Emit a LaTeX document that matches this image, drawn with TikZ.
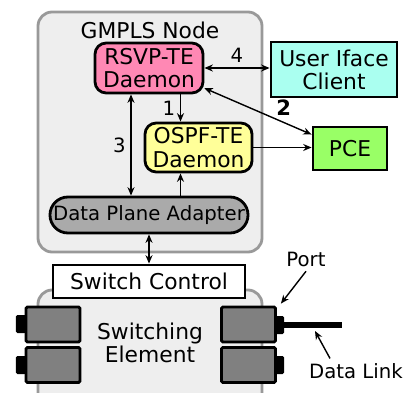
\documentclass[tikz,border=0pt]{standalone}
\usepackage{fontspec}
\setmainfont{DejaVu Sans}
\usepackage{xcolor}
\usetikzlibrary{arrows.meta}

\definecolor{boxgray}{HTML}{EEEEEE}
\definecolor{edgegray}{HTML}{999999}
\definecolor{rsvppink}{HTML}{FF88B4}
\definecolor{ospfyellow}{HTML}{FFFF99}
\definecolor{uicyan}{HTML}{AAFFF0}
\definecolor{pcegreen}{HTML}{99FF66}
\definecolor{dpagray}{HTML}{AAAAAA}
\definecolor{portgray}{HTML}{808080}

\tikzset{
  txt/.style={font=\fontsize{15.5}{16.5}\selectfont},
  smalltxt/.style={font=\fontsize{14}{15}\selectfont},
  daemon/.style={txt, draw, line width=2pt, rounded corners=8pt, align=center, inner sep=0pt},
  extbox/.style={txt, draw, line width=2pt, align=center, inner sep=0pt},
  portbox/.style={draw, line width=2pt, fill=portgray, rounded corners=1pt,
    minimum width=1.35cm, minimum height=0.875cm},
  porttab/.style={fill=black, rounded corners=1pt, inner sep=0pt,
    minimum width=0.25cm, minimum height=0.45cm},
  link/.style={line width=1pt, -{Stealth[length=6pt,width=5pt]}},
  dlink/.style={line width=1pt, {Stealth[length=6pt,width=5pt]}-{Stealth[length=6pt,width=5pt]}},
  numlbl/.style={font=\fontsize{14}{14}\selectfont}
}

\begin{document}
\begin{tikzpicture}[x=0.025cm, y=-0.025cm]
  \useasboundingbox (0,0) rectangle (411,392);
  \clip (0,0) rectangle (411,392);

  % enclosures
  \draw[edgegray, fill=boxgray, line width=2pt, rounded corners=10pt] (38,12) rectangle (262,252);
  \draw[edgegray, fill=boxgray, line width=2pt, rounded corners=10pt] (38,290) rectangle (262,410);
  \node[txt] (gmpls) at (150,30) {GMPLS Node};

  % daemons
  \node[daemon, fill=rsvppink, minimum width=2.7cm, minimum height=1.25cm] (rsvp) at (149,68) {RSVP-TE\\Daemon};
  \node[daemon, fill=ospfyellow, minimum width=2.675cm, minimum height=1.225cm] (ospf) at (198.5,147.5) {OSPF-TE\\Daemon};
  \node[daemon, smalltxt, fill=dpagray, rounded corners=0.45cm, minimum width=4.95cm, minimum height=0.9cm] (dpa) at (149,215) {Data Plane Adapter};

  % outside boxes
  \node[extbox, fill=uicyan, minimum width=3.15cm, minimum height=1.375cm] (ui) at (334,69.5) {User Iface\\Client};
  \node[extbox, fill=pcegreen, minimum width=1.85cm, minimum height=1.075cm] (pce) at (350,148.5) {PCE};
  \node[extbox, fill=white, minimum width=4.8cm, minimum height=0.825cm] (sc) at (149,281.5) {Switch Control};
  \node[txt, align=center] (se) at (150,343) {Switching\\Element};

  % ports
  \node[porttab] (tl1) at (21,324) {};
  \node[porttab] (tl2) at (21,365) {};
  \node[portbox] (pl1) at (53,324.5) {};
  \node[portbox] (pl2) at (53,365) {};
  \node[porttab] (tr1) at (279,325) {};
  \node[porttab] (tr2) at (279,365) {};
  \node[portbox] (pr1) at (248.5,324.5) {};
  \node[portbox] (pr2) at (248.5,365) {};

  \coordinate (linkend) at (342,325);
  \coordinate (linktip) at (315,331);
  \draw[line width=4.3pt] (tr1.center) -- (linkend);

  % connectors
  \draw[dlink] (rsvp.east) -- (rsvp.east -| ui.west) node[midway, above, numlbl] {4};
  \draw[dlink] (rsvp.-20) -- (pce.160) node[pos=0.74, above=1pt, font=\fontsize{15}{15}\selectfont\bfseries] {2};
  \draw[link] ([xshift=-0.45cm]ospf.north |- rsvp.south) -- ([xshift=-0.45cm]ospf.north) node[midway, left, numlbl] {1};
  \draw[dlink] ([xshift=-0.45cm]rsvp.south) -- ([xshift=-0.45cm]rsvp.south |- dpa.north) node[midway, left, numlbl] {3};
  \draw[link] ([xshift=-0.45cm]ospf.south |- dpa.north) -- ([xshift=-0.45cm]ospf.south);
  \draw[link] (ospf.east) -- (ospf.east -| pce.west);
  \draw[dlink] (dpa.south) -- (sc.north);

  % annotations
  \node[smalltxt] (port) at (306,259) {Port};
  \node[smalltxt] (dl) at (356,371) {Data Link};
  \draw[link] (port.south) -- ([shift={(0.1cm,0.05cm)}]pr1.north east);
  \draw[link] ([xshift=-0.65cm]dl.north) -- (linktip);
\end{tikzpicture}
\end{document}
